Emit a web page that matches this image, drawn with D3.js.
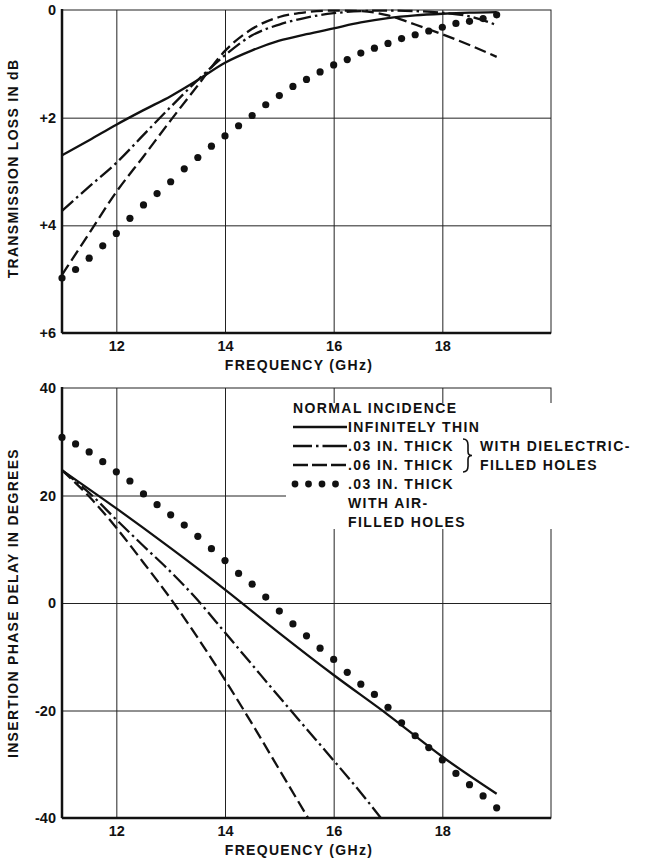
<!DOCTYPE html>
<html>
<head>
<meta charset="utf-8">
<script src="https://cdn.jsdelivr.net/npm/d3@7"></script>
<style>
    body { margin: 0; background: #fff; }
    svg { font-family: "Liberation Sans", Arial, sans-serif; font-weight: bold; }
    .grid line { stroke: #222; stroke-width: 1; }
    .labels text { font-size: 14.5px; fill: #111; }
    .title { font-size: 14px; fill: #111; letter-spacing: 1.3px; }
    .legend text { font-size: 14px; fill: #111; letter-spacing: 1.4px; }
    .curve { fill: none; stroke: #111; stroke-width: 2.3; }
</style>
</head>
<body>
<div id="chart"></div>
<script>

// shared frequency axis (GHz)
const freqDomain = [11, 20];
const freqTicks = [12, 14, 16, 18];

// --- upper panel: transmission loss in dB ---
const lossTicks = [0, 2, 4, 6];
const lossFreq = [11, 11.5, 12, 12.5, 13, 13.5, 14, 14.5, 15, 15.5, 16, 16.5, 17, 17.5, 18, 18.5, 19];
const lossThin = [2.70, 2.42, 2.13, 1.86, 1.60, 1.30, 0.98, 0.75, 0.57, 0.45, 0.34, 0.23, 0.15, 0.10, 0.07, 0.05, 0.04];
const lossDiel03 = [3.73, 3.28, 2.84, 2.32, 1.80, 1.30, 0.84, 0.47, 0.27, 0.14, 0.06, 0.02, 0.01, 0.02, 0.05, 0.12, 0.28];
const lossDiel06 = [4.92, 4.15, 3.38, 2.72, 2.05, 1.40, 0.76, 0.35, 0.13, 0.04, 0.01, 0.02, 0.10, 0.27, 0.45, 0.65, 0.87];

// air-filled holes, measured points
const airFreq = [11, 11.25, 11.5, 11.75, 12, 12.25, 12.5, 12.75, 13, 13.25, 13.5, 13.75, 14, 14.25, 14.5, 14.75,
    15, 15.25, 15.5, 15.75, 16, 16.25, 16.5, 16.75, 17, 17.25, 17.5, 17.75, 18, 18.25, 18.5, 18.75, 19];
const lossAir = [4.98, 4.82, 4.61, 4.38, 4.15, 3.87, 3.62, 3.41, 3.19, 2.95, 2.74, 2.53, 2.34, 2.15, 1.96, 1.76,
    1.59, 1.42, 1.29, 1.15, 1.02, 0.92, 0.80, 0.71, 0.62, 0.53, 0.46, 0.39, 0.32, 0.25, 0.21, 0.16, 0.09];

// --- lower panel: insertion phase delay in degrees ---
const phaseTicks = [40, 20, 0, -20, -40];
const phaseThinFreq = [11, 12, 13, 14, 15, 16, 17, 18, 19];
const phaseThin = [24.7, 17.6, 10.2, 2.5, -5.6, -13.4, -20.8, -28.6, -35.5];
const phaseDiel03Freq = [11, 11.5, 12, 12.5, 13, 13.5, 14, 14.5, 15, 15.5, 16, 16.5, 16.87];
const phaseDiel03 = [24.7, 20.5, 15.5, 10.6, 5.8, 0.5, -5.5, -11.5, -17.5, -23.4, -29.3, -35.3, -40];
const phaseDiel06Freq = [11, 11.5, 12, 12.5, 13, 13.5, 14, 14.5, 15, 15.53];
const phaseDiel06 = [24.7, 19.8, 14.0, 7.5, 0.8, -6.5, -14.3, -22.5, -31.0, -40];
const phaseAir = [30.8, 29.6, 28.1, 26.3, 24.4, 22.7, 20.3, 18.3, 16.4, 14.5, 12.4, 10.1, 7.9, 5.5, 3.5, 1.1,
    -1.5, -3.9, -6.1, -8.4, -10.5, -12.9, -15.1, -17.0, -19.4, -22.3, -24.7, -26.9, -29.2, -31.7, -33.8, -35.9, -38.1];

// legend text
const legendHead = "NORMAL INCIDENCE";
const legendLabels = ["INFINITELY THIN", ".03 IN. THICK", ".06 IN. THICK", ".03 IN. THICK", "WITH AIR-", "FILLED HOLES"];
const braceLabels = ["WITH DIELECTRIC-", "FILLED HOLES"];

const zip = (xs, ys) => xs.map((x, i) => [x, ys[i]]);

class Panel {
    constructor(svg, opts) {
        this.svg = svg;
        this.opts = opts;
        this.initVis();
    }

    initVis() {
        let vis = this;
        let o = vis.opts;

        vis.margin = o.margin;
        vis.width = o.width;
        vis.height = o.height;

        vis.g = vis.svg.append("g")
            .attr("transform", "translate(" + vis.margin.left + "," + vis.margin.top + ")");

        vis.x = d3.scaleLinear().domain(freqDomain).range([0, vis.width]);
        vis.y = d3.scaleLinear().domain(o.yDomain).range([0, vis.height]);

        // grid lines
        vis.g.append("g")
            .attr("class", "grid")
            .attr("transform", "translate(0," + vis.height + ")")
            .call(d3.axisBottom(vis.x).tickValues(freqTicks).tickSize(-vis.height).tickFormat(""))
            .call(g => g.select(".domain").remove());

        vis.g.append("g")
            .attr("class", "grid")
            .call(d3.axisLeft(vis.y).tickValues(o.yTicks.slice(1, -1)).tickSize(-vis.width).tickFormat(""))
            .call(g => g.select(".domain").remove());

        // thin frame on top / right
        vis.g.append("rect")
            .attr("width", vis.width)
            .attr("height", vis.height)
            .attr("fill", "none")
            .attr("stroke", "#222")
            .attr("stroke-width", 1);

        // hook for anything that must sit over the grid (legend box)
        vis.overlay = vis.g.append("g");

        // heavier left and bottom axis lines
        vis.g.append("line")
            .attr("x1", 0).attr("x2", 0).attr("y1", -1).attr("y2", vis.height)
            .attr("stroke", "#111").attr("stroke-width", 2.5);
        vis.g.append("line")
            .attr("x1", 0).attr("x2", vis.width).attr("y1", vis.height).attr("y2", vis.height)
            .attr("stroke", "#111").attr("stroke-width", 2.5);

        // tick labels
        vis.g.append("g")
            .attr("class", "labels")
            .attr("transform", "translate(0," + vis.height + ")")
            .call(d3.axisBottom(vis.x).tickValues(freqTicks).tickSize(0).tickPadding(8))
            .call(g => g.select(".domain").remove());

        vis.g.append("g")
            .attr("class", "labels")
            .call(d3.axisLeft(vis.y).tickValues(o.yTicks).tickSize(0).tickPadding(6).tickFormat(o.yFormat))
            .call(g => g.select(".domain").remove());

        // axis titles
        vis.g.append("text")
            .attr("class", "title")
            .attr("x", 237)
            .attr("y", vis.height + 37)
            .attr("text-anchor", "middle")
            .text("FREQUENCY (GHz)");

        vis.g.append("text")
            .attr("class", "title")
            .attr("transform", "translate(-44," + (vis.height / 2 + o.titleShift) + ") rotate(-90)")
            .attr("text-anchor", "middle")
            .text(o.yTitle);

        vis.line = d3.line()
            .x(d => vis.x(d[0]))
            .y(d => vis.y(d[1]))
            .curve(d3.curveMonotoneX);
    }

    addCurve(points, dash) {
        let vis = this;
        vis.g.append("path")
            .attr("class", "curve")
            .attr("stroke-dasharray", dash)
            .attr("d", vis.line(points));
    }

    addDots(points) {
        let vis = this;
        vis.g.append("g")
            .selectAll("circle")
            .data(points)
            .join("circle")
            .attr("cx", d => vis.x(d[0]))
            .attr("cy", d => vis.y(d[1]))
            .attr("r", 3.6)
            .attr("fill", "#111");
    }
}

const DASHDOT = "15,4,2.5,4";
const DASHED = "12,5";

let svg = d3.select("#chart").append("svg")
    .attr("width", 646)
    .attr("height", 862);

// upper chart
let lossPanel = new Panel(svg, {
    margin: {top: 10, left: 62},
    width: 489,
    height: 323,
    yDomain: [0, 6],
    yTicks: lossTicks,
    yFormat: d => d === 0 ? "0" : "+" + d,
    yTitle: "TRANSMISSION LOSS IN dB",
    titleShift: -3
});
lossPanel.addCurve(zip(lossFreq, lossThin), null);
lossPanel.addCurve(zip(lossFreq, lossDiel03), DASHDOT);
lossPanel.addCurve(zip(lossFreq, lossDiel06), DASHED);
lossPanel.addDots(zip(airFreq, lossAir));

// lower chart
let phasePanel = new Panel(svg, {
    margin: {top: 388, left: 62},
    width: 489,
    height: 430,
    yDomain: [40, -40],
    yTicks: phaseTicks,
    yFormat: d => String(d),
    yTitle: "INSERTION PHASE DELAY IN DEGREES",
    titleShift: 0
});

// legend sits in a white box that breaks the grid
let lg = phasePanel.overlay;
lg.append("rect")
    .attr("x", 224).attr("y", 15)
    .attr("width", 268).attr("height", 126)
    .attr("fill", "#fff");

let lx = 231, tx = 286, base = 25, step = 19;
let leg = lg.append("g").attr("class", "legend");
leg.append("text").attr("x", lx).attr("y", base).text(legendHead);
leg.selectAll("text.row")
    .data(legendLabels)
    .join("text")
    .attr("class", "row")
    .attr("x", tx)
    .attr("y", (d, i) => base + step * (i + 1))
    .text(d => d);

let sy = i => base + step * (i + 1) - 5;
leg.append("line").attr("class", "curve").attr("x1", lx).attr("x2", tx - 1).attr("y1", sy(0)).attr("y2", sy(0));
leg.append("line").attr("class", "curve").attr("x1", lx).attr("x2", tx - 1).attr("y1", sy(1)).attr("y2", sy(1))
    .attr("stroke-dasharray", "19,4,2.5,4,40");
leg.append("line").attr("class", "curve").attr("x1", lx).attr("x2", tx - 1).attr("y1", sy(2)).attr("y2", sy(2))
    .attr("stroke-dasharray", "15,4");
leg.selectAll("circle")
    .data([0, 1, 2, 3])
    .join("circle")
    .attr("cx", d => lx + 2 + d * 13.5)
    .attr("cy", sy(3))
    .attr("r", 3.4)
    .attr("fill", "#111");

// brace joining the two dielectric rows
let bx = 401, b0 = sy(1) - 7, b1 = sy(2) + 7, bm = (b0 + b1) / 2;
leg.append("path")
    .attr("fill", "none").attr("stroke", "#111").attr("stroke-width", 1.6)
    .attr("d", "M" + bx + "," + b0 + " Q" + (bx + 5) + "," + b0 + " " + (bx + 5) + "," + (b0 + 6) +
        " L" + (bx + 5) + "," + (bm - 4) + " Q" + (bx + 5) + "," + bm + " " + (bx + 9) + "," + bm +
        " Q" + (bx + 5) + "," + bm + " " + (bx + 5) + "," + (bm + 4) +
        " L" + (bx + 5) + "," + (b1 - 6) + " Q" + (bx + 5) + "," + b1 + " " + bx + "," + b1);
leg.selectAll("text.brace")
    .data(braceLabels)
    .join("text")
    .attr("class", "brace")
    .attr("x", 418)
    .attr("y", (d, i) => base + step * (i + 2))
    .text(d => d);

phasePanel.addCurve(zip(phaseThinFreq, phaseThin), null);
phasePanel.addCurve(zip(phaseDiel03Freq, phaseDiel03), DASHDOT);
phasePanel.addCurve(zip(phaseDiel06Freq, phaseDiel06), DASHED);
phasePanel.addDots(zip(airFreq, phaseAir));

</script>
</body>
</html>
